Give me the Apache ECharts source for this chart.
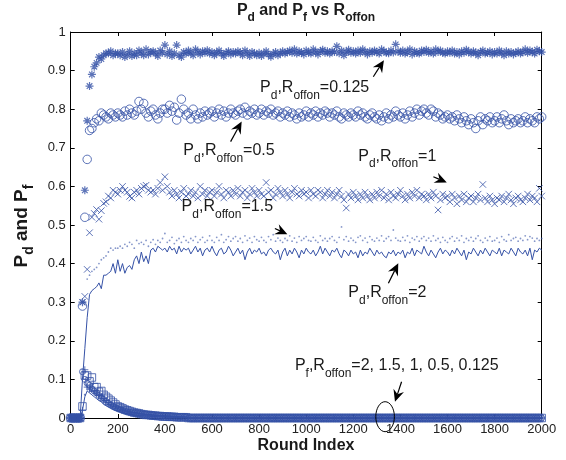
<!DOCTYPE html>
<html><head><meta charset="utf-8">
<script src="https://cdn.jsdelivr.net/npm/echarts@6/dist/echarts.min.js"></script>
<style>html,body{margin:0;padding:0;background:#fff}#c{width:566px;height:460px}</style>
</head><body><div id="c"></div>
<script>
// ---------------- data ----------------
const ROUNDS = [0,10,20,30,40,50,60,70,80,90,100,110,120,130,140,150,160,170,180,190,
200,210,220,230,240,250,260,270,280,290,300,310,320,330,340,350,360,370,380,390,
400,410,420,430,440,450,460,470,480,490,500,510,520,530,540,550,560,570,580,590,
600,610,620,630,640,650,660,670,680,690,700,710,720,730,740,750,760,770,780,790,
800,810,820,830,840,850,860,870,880,890,900,910,920,930,940,950,960,970,980,990,
1000,1010,1020,1030,1040,1050,1060,1070,1080,1090,1100,1110,1120,1130,1140,1150,1160,1170,1180,1190,
1200,1210,1220,1230,1240,1250,1260,1270,1280,1290,1300,1310,1320,1330,1340,1350,1360,1370,1380,1390,
1400,1410,1420,1430,1440,1450,1460,1470,1480,1490,1500,1510,1520,1530,1540,1550,1560,1570,1580,1590,
1600,1610,1620,1630,1640,1650,1660,1670,1680,1690,1700,1710,1720,1730,1740,1750,1760,1770,1780,1790,
1800,1810,1820,1830,1840,1850,1860,1870,1880,1890,1900,1910,1920,1930,1940,1950,1960,1970,1980,1990,2000];

// Pd, Roffon = 0.125  (asterisks)
const PD_0125 = [0,0,0,0,0,.30,.59,.77,.86,.89,.91,.92,.935,.93,.94,.945,.945,.95,.94,.945,
.945,.94,.948,.935,.942,.95,.938,.945,.94,.952,
.946,.94,.955,.942,.948,.95,.944,.938,.952,.946,
.966,.942,.95,.938,.945,.966,.94,.935,.948,.944,
.952,.946,.94,.955,.948,.942,.95,.946,.953,.944,
.948,.94,.946,.952,.944,.938,.946,.95,.942,.948,
.944,.95,.946,.94,.952,.945,.938,.948,.944,.94,
.946,.938,.944,.95,.942,.936,.944,.948,.94,.945,
.95,.944,.948,.952,.946,.955,.944,.95,.946,.942,
.952,.947,.944,.955,.948,.942,.95,.954,.946,.95,
.944,.95,.948,.963,.945,.952,.94,.948,.954,.946,
.95,.944,.952,.946,.955,.948,.942,.95,.946,.952,
.948,.944,.955,.95,.946,.945,.952,.947,.968,.95,
.946,.952,.944,.948,.955,.942,.95,.946,.944,.952,
.948,.954,.946,.95,.944,.955,.948,.952,.946,.944,
.95,.946,.952,.944,.948,.942,.95,.946,.954,.948,
.944,.95,.946,.94,.948,.952,.944,.946,.95,.942,
.948,.944,.952,.946,.94,.95,.944,.948,.942,.946,
.95,.944,.948,.955,.946,.952,.948,.944,.954,.95,
.948];

// Pd, Roffon = 0.5  (circles)
const PD_05 = [0,0,0,0,0,.29,.52,.67,.745,.75,.765,.775,.77,.79,.785,.78,.775,.79,.785,.78,
.79,.785,.78,.795,.785,.80,.79,.785,.795,.82,
.80,.815,.79,.78,.795,.80,.785,.775,.79,.80,
.80,.79,.81,.795,.805,.772,.79,.826,.80,.785,
.79,.775,.80,.785,.775,.79,.78,.795,.785,.79,
.795,.78,.79,.80,.785,.795,.78,.79,.80,.79,
.785,.795,.80,.79,.805,.785,.795,.79,.80,.785,
.79,.80,.785,.795,.79,.80,.785,.79,.795,.78,
.79,.785,.795,.78,.79,.785,.775,.79,.78,.785,
.795,.78,.79,.785,.795,.78,.79,.785,.795,.79,
.78,.79,.785,.795,.78,.775,.79,.785,.78,.79,
.785,.78,.795,.785,.79,.78,.775,.785,.79,.78,
.775,.785,.77,.78,.79,.775,.785,.78,.795,.785,
.78,.79,.775,.785,.795,.78,.79,.80,.785,.795,
.80,.79,.785,.80,.795,.78,.79,.785,.775,.78,
.785,.775,.78,.77,.785,.775,.765,.78,.77,.76,
.775,.765,.75,.77,.78,.76,.775,.77,.78,.765,
.77,.78,.765,.775,.785,.77,.76,.775,.765,.77,
.775,.765,.77,.78,.765,.775,.77,.765,.78,.775,
.78];

// Pd, Roffon = 1  (crosses)
const PD_1 = [0,0,0,0,0,.30,.315,.385,.48,.52,.53,.54,.515,.537,.556,.56,.575,.57,.59,.585,
.58,.59,.60,.59,.585,.574,.57,.585,.59,.58,
.595,.60,.603,.59,.585,.59,.58,.595,.61,.59,
.625,.60,.585,.575,.59,.58,.57,.585,.595,.575,
.58,.59,.575,.585,.57,.60,.58,.59,.575,.585,
.59,.575,.585,.60,.58,.57,.59,.585,.575,.59,
.58,.595,.575,.585,.59,.57,.58,.595,.585,.575,
.59,.58,.575,.61,.585,.59,.57,.58,.595,.585,
.575,.59,.58,.57,.585,.595,.58,.575,.59,.58,
.585,.57,.59,.58,.575,.59,.585,.57,.58,.59,
.575,.585,.57,.58,.59,.575,.565,.544,.58,.57,
.585,.575,.565,.58,.57,.585,.575,.565,.58,.57,
.585,.575,.59,.57,.58,.565,.585,.575,.57,.58,
.59,.575,.565,.58,.57,.585,.575,.59,.57,.58,
.575,.565,.58,.57,.585,.575,.539,.565,.58,.57,
.575,.56,.58,.57,.555,.575,.565,.58,.56,.57,
.575,.56,.57,.58,.565,.605,.57,.56,.575,.565,
.555,.57,.565,.575,.56,.57,.58,.565,.555,.57,
.575,.565,.56,.57,.58,.565,.575,.57,.56,.595,
.575];

// Pd, Roffon = 1.5  (dots)
const PD_15 = [0,0,0,0,0,.12,.30,.36,.37,.38,.385,.39,.40,.41,.415,.42,.43,.44,.435,.44,
.44,.445,.44,.45,.445,.455,.45,.44,.46,.452,
.455,.45,.46,.445,.455,.462,.45,.46,.455,.465,
.478,.455,.46,.468,.452,.46,.465,.455,.47,.46,
.455,.465,.46,.47,.455,.462,.468,.455,.46,.472,
.46,.455,.468,.46,.475,.455,.462,.47,.458,.465,
.47,.458,.465,.455,.472,.46,.466,.455,.47,.462,
.458,.468,.46,.455,.47,.462,.475,.458,.466,.46,
.455,.465,.46,.472,.458,.466,.455,.47,.46,.465,
.47,.46,.458,.468,.46,.455,.472,.46,.465,.458,
.465,.47,.46,.455,.468,.495,.462,.47,.458,.466,
.46,.455,.468,.472,.46,.466,.455,.47,.462,.458,
.466,.46,.472,.458,.465,.47,.46,.487,.466,.46,
.458,.468,.46,.472,.455,.466,.462,.47,.458,.465,
.47,.46,.466,.458,.472,.46,.465,.455,.468,.46,
.455,.465,.47,.458,.466,.46,.472,.455,.465,.46,
.468,.458,.465,.472,.46,.455,.466,.46,.47,.458,
.46,.466,.455,.47,.462,.458,.475,.46,.465,.468,
.458,.465,.46,.472,.462,.47,.466,.458,.465,.46,
.465];

// Pd, Roffon = 2  (solid line)
const PD_2 = [0,0,0,0,0,.10,.18,.26,.32,.33,.335,.34,.35,.335,.37,.37,.375,.38,.40,.375,
.41,.38,.40,.375,.39,.395,.385,.41,.42,.40,
.43,.405,.42,.40,.435,.44,.43,.445,.44,.435,
.44,.43,.445,.435,.44,.425,.445,.43,.44,.435,
.44,.425,.435,.445,.43,.44,.42,.435,.44,.43,
.445,.43,.42,.435,.44,.425,.43,.445,.435,.42,
.43,.44,.425,.435,.41,.43,.44,.425,.435,.43,
.44,.425,.43,.42,.435,.44,.43,.425,.435,.41,
.43,.44,.42,.435,.425,.44,.43,.415,.435,.425,
.44,.43,.425,.435,.42,.43,.445,.425,.44,.43,
.42,.435,.43,.44,.425,.415,.435,.43,.42,.435,
.425,.43,.415,.435,.42,.43,.425,.44,.43,.42,
.435,.425,.43,.42,.415,.43,.425,.435,.42,.43,
.425,.435,.415,.43,.425,.44,.42,.435,.43,.425,
.445,.43,.42,.435,.425,.415,.43,.44,.425,.435,
.43,.42,.435,.425,.44,.43,.42,.435,.41,.43,
.425,.44,.43,.42,.435,.425,.44,.43,.42,.435,
.43,.425,.44,.42,.435,.43,.425,.44,.43,.42,
.44,.43,.425,.435,.42,.44,.41,.435,.43,.44,
.435];

// Pf series: rounds 0..490 (50 values), then all zero from round 500 to 2000
const PF_TAIL_ZEROS = [0,0,0,0,0,0,0,0,0,0,0,0,0,0,0,0,0,0,0,0,0,0,0,0,0,0,0,0,0,0,
0,0,0,0,0,0,0,0,0,0,0,0,0,0,0,0,0,0,0,0,0,0,0,0,0,0,0,0,0,0,
0,0,0,0,0,0,0,0,0,0,0,0,0,0,0,0,0,0,0,0,0,0,0,0,0,0,0,0,0,0,
0,0,0,0,0,0,0,0,0,0,0,0,0,0,0,0,0,0,0,0,0,0,0,0,0,0,0,0,0,0,
0,0,0,0,0,0,0,0,0,0,0,0,0,0,0,0,0,0,0,0,0,0,0,0,0,0,0,0,0,0,0];
const PF_2_HEAD = [0,0,0,0,0,.02,.055,.07,.065,.06,.055,.05,.045,.042,.035,.032,.028,.025,.022,.02,
.018,.016,.014,.012,.011,.01,.009,.008,.007,.007,
.006,.006,.005,.005,.004,.004,.004,.003,.003,.003,
.003,.002,.002,.002,.002,.001,.001,.001,.001,.001];
const PF_15_HEAD = [0,0,0,0,0,.01,.06,.08,.075,.07,.065,.06,.055,.05,.045,.04,.035,.032,.028,.025,
.022,.02,.018,.016,.014,.013,.012,.011,.01,.009,
.008,.008,.007,.007,.006,.006,.005,.005,.005,.004,
.004,.004,.003,.003,.003,.003,.002,.002,.002,.002];
const PF_1_HEAD = [0,0,0,0,0,.02,.125,.08,.075,.08,.07,.065,.06,.055,.05,.045,.04,.036,.032,.03,
.027,.025,.022,.02,.018,.016,.015,.014,.013,.012,
.011,.01,.009,.009,.008,.007,.007,.006,.006,.005,
.005,.005,.004,.004,.004,.003,.003,.003,.003,.002];
const PF_05_HEAD = [0,0,0,0,0,.03,.11,.11,.095,.105,.08,.08,.068,.07,.06,.055,.05,.045,.04,.035,
.03,.028,.025,.022,.02,.018,.016,.014,.013,.012,
.01,.009,.008,.008,.007,.006,.006,.005,.005,.004,
.004,.004,.003,.003,.003,.002,.002,.002,.002,.002];
const PF_0125_HEAD = [0,0,0,0,0,.12,.10,.09,.085,.075,.07,.065,.058,.052,.048,.042,.038,.034,.03,.027,
.024,.022,.02,.018,.016,.015,.014,.013,.012,.011,
.01,.009,.009,.008,.007,.007,.006,.006,.005,.005,
.005,.004,.004,.004,.003,.003,.003,.003,.002,.002];
const PF_2 = PF_2_HEAD.concat(PF_TAIL_ZEROS);
const PF_15 = PF_15_HEAD.concat(PF_TAIL_ZEROS);
const PF_1 = PF_1_HEAD.concat(PF_TAIL_ZEROS);
const PF_05 = PF_05_HEAD.concat(PF_TAIL_ZEROS);
const PF_0125 = PF_0125_HEAD.concat(PF_TAIL_ZEROS);

// ---------------- styling / layout ----------------
const BLUE = '#3551a6';
const FONT = "'Liberation Sans', Arial, sans-serif";
const SYM_STAR = 'path://M0,5L10,5M5,0L5,10M1.5,1.5L8.5,8.5M8.5,1.5L1.5,8.5';
const SYM_CROSS = 'path://M0,0L10,10M10,0L0,10';
const SYM_PLUS = 'path://M0,5L10,5M5,0L5,10';

const ANNOTATIONS = [
  {text:'{m|P}{s|d}{m|,R}{s|offon}{m|=0.125}', at:[804,0.841], tail:[1285,0.884], head:[1330,0.927]},
  {text:'{m|P}{s|d}{m|,R}{s|offon}{m|=0.5}', at:[478,0.677], tail:[679,0.716], head:[726,0.768]},
  {text:'{m|P}{s|d}{m|,R}{s|offon}{m|=1}', at:[1221,0.664], tail:[1540,0.625], head:[1597,0.610]},
  {text:'{m|P}{s|d}{m|,R}{s|offon}{m|=1.5}', at:[471,0.532], tail:[867,0.491], head:[920,0.476]},
  {text:'{m|P}{s|d}{m|,R}{s|offon}{m|=2}', at:[1179,0.310], tail:[1349,0.349], head:[1391,0.401]},
  {text:'{m|P}{s|f}{m|,R}{s|offon}{m|=2, 1.5, 1, 0.5, 0.125}', at:[952,0.120], tail:[1405,0.094], head:[1377,0.042]}
];
const ELLIPSE_AT = [1335, 0.0034];

function pairs(vals){ return ROUNDS.map((r,i)=>[r, vals[i]]); }

function axisCommon(show){
  return {
    axisLine:{show:true, onZero:false, lineStyle:{color:'#000', width:1}},
    axisTick:{show:true, inside:true, length:4, lineStyle:{color:'#000', width:1}},
    axisLabel:{show:show, fontFamily:FONT, fontSize:13, color:'#222', margin:5,
      formatter:function(v){ return String(Math.round(v*1000)/1000); }},
    splitLine:{show:false}
  };
}
function xAxis(pos, show){
  return Object.assign({type:'value', position:pos, min:0, max:2000, interval:200}, axisCommon(show));
}
function yAxis(pos, show){
  return Object.assign({type:'value', position:pos, min:0, max:1, interval:0.1}, axisCommon(show));
}
const hollow = {color:'rgba(0,0,0,0)', borderColor:BLUE, borderWidth:1};

const chart = echarts.init(document.getElementById('c'), null, {renderer:'canvas'});
chart.setOption({
  animation:false,
  backgroundColor:'#fff',
  grid:{left:70.7, right:24.3, top:32, bottom:42, containLabel:false, outerBoundsMode:'none'},
  xAxis:[xAxis('bottom', true), xAxis('top', false)],
  yAxis:[yAxis('left', true), yAxis('right', false)],
  series:[
    {name:'Pf 0.125', type:'scatter', data:pairs(PF_0125), symbol:'circle', symbolSize:6, itemStyle:hollow, z:2},
    {name:'Pf 0.5', type:'scatter', data:pairs(PF_05), symbol:'rect', symbolSize:7.5, itemStyle:hollow, z:2},
    {name:'Pf 1', type:'scatter', data:pairs(PF_1), symbol:SYM_PLUS, symbolSize:7, itemStyle:hollow, z:2},
    {name:'Pf 1.5', type:'scatter', data:pairs(PF_15), symbol:'circle', symbolSize:2, itemStyle:{color:BLUE, opacity:0.7}, z:2},
    {name:'Pf 2', type:'line', data:pairs(PF_2), symbol:'none', showSymbol:false, lineStyle:{color:BLUE, width:1}, z:2},
    {name:'Pd 0.125', type:'scatter', data:pairs(PD_0125), symbol:SYM_STAR, symbolSize:8, itemStyle:{color:'rgba(0,0,0,0)', borderColor:BLUE, borderWidth:1.2}, z:3},
    {name:'Pd 0.5', type:'scatter', data:pairs(PD_05), symbol:'circle', symbolSize:8.5, itemStyle:hollow, z:3},
    {name:'Pd 1', type:'scatter', data:pairs(PD_1), symbol:SYM_CROSS, symbolSize:6.5, itemStyle:hollow, z:3},
    {name:'Pd 1.5', type:'scatter', data:pairs(PD_15), symbol:'circle', symbolSize:1.8, itemStyle:{color:BLUE, opacity:0.6}, z:3},
    {name:'Pd 2', type:'line', data:pairs(PD_2), symbol:'none', showSymbol:false, lineStyle:{color:BLUE, width:1}, z:3}
  ]
});

// ---------------- annotations ----------------
const RICH = {
  m:{fontSize:16, fontFamily:FONT, fill:'#1a1a1a', lineHeight:16, verticalAlign:'top'},
  s:{fontSize:12, fontFamily:FONT, fill:'#1a1a1a', lineHeight:12, verticalAlign:'top', padding:[10,0,0,0]}
};
const RICH_B = {
  m:{fontSize:16, fontFamily:FONT, fontWeight:'bold', fill:'#1a1a1a', lineHeight:16, verticalAlign:'top'},
  s:{fontSize:12, fontFamily:FONT, fontWeight:'bold', fill:'#1a1a1a', lineHeight:12, verticalAlign:'top', padding:[9,0,0,0]}
};
const RICH_Y = {
  m:{fontSize:19, fontFamily:FONT, fontWeight:'bold', fill:'#1a1a1a', lineHeight:19, verticalAlign:'top'},
  s:{fontSize:14, fontFamily:FONT, fontWeight:'bold', fill:'#1a1a1a', lineHeight:14, verticalAlign:'top', padding:[10,0,0,0]}
};
function px(p){ return chart.convertToPixel({gridIndex:0}, p); }
function arrow(t, h){
  const dx=h[0]-t[0], dy=h[1]-t[1], len=Math.hypot(dx,dy);
  const ux=dx/len, uy=dy/len, nx=-uy, ny=ux;
  const L=12, W=5.5, N=8;
  const base=[h[0]-ux*L, h[1]-uy*L], notch=[h[0]-ux*N, h[1]-uy*N];
  return [
    {type:'line', silent:true, z:10, shape:{x1:t[0], y1:t[1], x2:notch[0], y2:notch[1]}, style:{stroke:'#000', lineWidth:1.2}},
    {type:'polygon', silent:true, z:10, shape:{points:[h,[base[0]+nx*W, base[1]+ny*W], notch, [base[0]-nx*W, base[1]-ny*W]]}, style:{fill:'#000'}}
  ];
}
const g = [];
ANNOTATIONS.forEach(a=>{
  const p = px(a.at);
  g.push({type:'text', silent:true, z:10, x:p[0], y:p[1]-13.6, style:{text:a.text, rich:RICH, align:'left', verticalAlign:'top', fill:'#1a1a1a'}});
  arrow(px(a.tail), px(a.head)).forEach(e=>g.push(e));
});
const ec = px(ELLIPSE_AT);
g.push({type:'ellipse', silent:true, z:10, shape:{cx:ec[0], cy:ec[1], rx:9.3, ry:15}, style:{fill:'none', stroke:'#000', lineWidth:1}});
// title
g.push({type:'text', silent:true, z:10, x:306, y:3, style:{text:'{m|P}{s|d}{m| and P}{s|f}{m| vs R}{s|offon}', rich:RICH_B, align:'center', verticalAlign:'top'}});
// axis names
g.push({type:'text', silent:true, z:10, x:306, y:438, style:{text:'Round Index', font:"bold 16px "+FONT, fill:'#1a1a1a', align:'center', verticalAlign:'top'}});
g.push({type:'text', silent:true, z:10, x:22, y:226, rotation:Math.PI/2, style:{text:'{m|P}{s|d}{m| and P}{s|f}', rich:RICH_Y, align:'center', verticalAlign:'middle'}});
chart.setOption({graphic:g});
</script>
</body></html>
